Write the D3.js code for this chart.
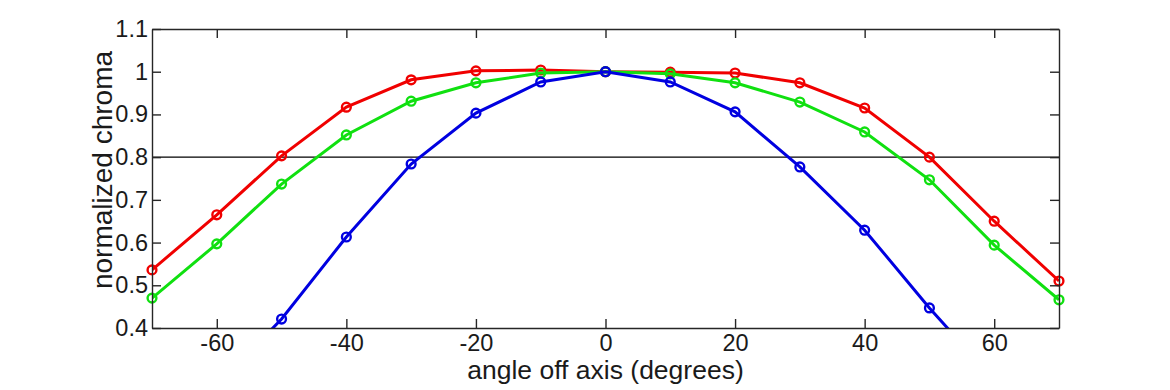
<!DOCTYPE html>
<html><head><meta charset="utf-8">
<script src="https://cdn.jsdelivr.net/npm/d3@7"></script>
<style>body{margin:0;background:#fff}svg{display:block}text{font-family:"Liberation Sans",Arial,sans-serif}</style>
</head><body><svg id="c" width="1170" height="390"></svg>
<script>
const angles = [-70,-60,-50,-40,-30,-20,-10,0,10,20,30,40,50,60,70];
const red   = [0.536,0.665,0.803,0.917,0.981,1.002,1.004,1.0,0.999,0.997,0.974,0.915,0.800,0.650,0.510];
const green = [0.470,0.597,0.737,0.852,0.931,0.974,0.997,1.0,0.995,0.974,0.929,0.859,0.747,0.594,0.466];
const blue  = [0.10,0.264,0.421,0.613,0.784,0.903,0.976,1.0,0.976,0.906,0.777,0.629,0.447,0.278,0.11];
const xTicks = [-60,-40,-20,0,20,40,60];
const yTicks = [0.4,0.5,0.6,0.7,0.8,0.9,1,1.1];
const threshold = 0.8;

const svg = d3.select("#c");
const L=152, R=1059, T=29, B=328;
const x = d3.scaleLinear().domain([-70,70]).range([L,R]);
const y = d3.scaleLinear().domain([0.4,1.1]).range([B,T]);
const axisColor = "#262626";

svg.append("defs").append("clipPath").attr("id","clip")
  .append("rect").attr("x",L).attr("y",T).attr("width",R-L).attr("height",B-T);

svg.append("line").attr("x1",L).attr("x2",R).attr("y1",y(threshold)).attr("y2",y(threshold))
  .attr("stroke","#000").attr("stroke-width",1.3);

const series = [{v:red,c:"#f00000"},{v:green,c:"#10e010"},{v:blue,c:"#0000e0"}];
const line = d3.line().x((d,i)=>x(angles[i])).y(d=>y(d));
series.forEach(s=>{
  svg.append("path").datum(s.v).attr("d",line).attr("fill","none")
    .attr("stroke",s.c).attr("stroke-width",3).attr("clip-path","url(#clip)");
  svg.selectAll(null).data(s.v.map((v,i)=>[angles[i],v]).filter(d=>d[1]>=0.4&&d[1]<=1.1))
    .enter().append("circle").attr("cx",d=>x(d[0])).attr("cy",d=>y(d[1])).attr("r",4.4)
    .attr("fill","none").attr("stroke",s.c).attr("stroke-width",2.4);
});

const tl = 9;
const fmtX = d => String(d);
const gx = svg.append("g").attr("transform",`translate(0,${B})`)
  .call(d3.axisBottom(x).tickValues(xTicks).tickSizeInner(-tl).tickSizeOuter(0).tickPadding(6).tickFormat(fmtX));
const gxt = svg.append("g").attr("transform",`translate(0,${T})`)
  .call(d3.axisTop(x).tickValues(xTicks).tickSizeInner(-tl).tickSizeOuter(0).tickFormat(""));
const gy = svg.append("g").attr("transform",`translate(${L},0)`)
  .call(d3.axisLeft(y).tickValues(yTicks).tickSizeInner(-tl).tickSizeOuter(0).tickPadding(4).tickFormat(d=>String(+d.toFixed(1))));
const gyr = svg.append("g").attr("transform",`translate(${R},0)`)
  .call(d3.axisRight(y).tickValues(yTicks).tickSizeInner(-tl).tickSizeOuter(0).tickFormat(""));
[gx,gxt,gy,gyr].forEach(g=>{
  g.select(".domain").attr("stroke",axisColor).attr("stroke-width",1.4);
  g.selectAll(".tick line").attr("stroke",axisColor).attr("stroke-width",1.4);
  g.selectAll("text").attr("fill","#1a1a1a").style("font-size","23.5px");
});
gx.selectAll("text").attr("dy","0.71em");

svg.append("text").attr("x",(L+R)/2).attr("y",379).attr("text-anchor","middle")
  .attr("fill","#1a1a1a").style("font-size","26.5px").text("angle off axis (degrees)");
svg.append("text").attr("transform",`translate(112,170) rotate(-90)`).attr("text-anchor","middle")
  .attr("fill","#1a1a1a").style("font-size","28px").text("normalized chroma");
</script></body></html>
